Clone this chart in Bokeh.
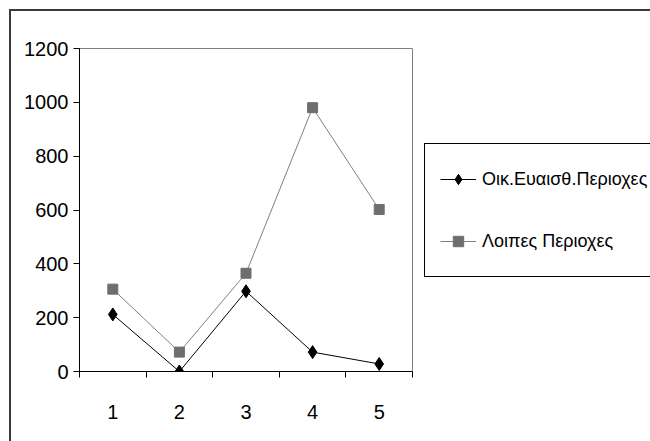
from bokeh.plotting import figure
from bokeh.models import (ColumnDataSource, FixedTicker, Legend, LegendItem,
                          Range1d, CustomJSTickFormatter)
from bokeh.embed import file_html
from bokeh.resources import INLINE

# ---- data ----
categories = [1, 2, 3, 4, 5]
cat_labels = ["1", "2", "3", "4", "5"]
sensitive = [212, 0, 298, 72, 28]
other = [306, 72, 365, 980, 602]
series_names = ["Οικ.Ευαισθ.Περιοχες", "Λοιπες Περιοχες"]
y_ticks = [0, 200, 400, 600, 800, 1000, 1200]

src = ColumnDataSource(dict(x=categories, s1=sensitive, s2=other))

p = figure(frame_width=333, frame_height=323, output_backend="svg",
           toolbar_location=None,
           x_range=Range1d(0.5, 5.5), y_range=Range1d(0, 1200),
           min_border_left=68, min_border_top=37, min_border_right=238,
           min_border_bottom=70)
# outer chart frame (top and left edges visible in the reference)
p.styles = {"margin-left": "9px", "margin-top": "9px",
            "border-left": "2px solid #3a3a3a", "border-top": "2px solid #3a3a3a"}
p.xgrid.visible = False
p.ygrid.visible = False
p.outline_line_color = "#808080"
p.outline_line_width = 1
p.outline_line_alpha = 1

l1 = p.line("x", "s1", source=src, line_color="black", line_width=1)
m1 = p.scatter("x", "s1", source=src, marker="diamond", size=13,
               fill_color="black", line_color="black")
l2 = p.line("x", "s2", source=src, line_color="#808080", line_width=1)
m2 = p.scatter("x", "s2", source=src, marker="square", size=10,
               fill_color="#6e6e6e", line_color="#6e6e6e")

# x axis: ticks at category boundaries, labels at centres
xa = p.xaxis[0]
xa.ticker = FixedTicker(ticks=categories,
                        minor_ticks=[c - 0.5 for c in categories] + [categories[-1] + 0.5])
xa.major_tick_line_color = None
xa.major_tick_out = 0
xa.major_tick_in = 0
xa.minor_tick_out = 6
xa.minor_tick_in = 0
xa.minor_tick_line_color = "black"
xa.axis_line_color = "black"
xa.major_label_standoff = 27
xa.major_label_text_font = "Liberation Sans"
xa.major_label_text_font_size = "20px"
xa.major_label_text_color = "black"
xa.formatter = CustomJSTickFormatter(args=dict(labels=cat_labels),
                                     code="return labels[Math.round(tick) - 1];")

ya = p.yaxis[0]
ya.ticker = FixedTicker(ticks=y_ticks, minor_ticks=[])
ya.major_tick_out = 6
ya.major_tick_in = 0
ya.minor_tick_line_color = None
ya.axis_line_color = "black"
ya.major_tick_line_color = "black"
ya.major_label_standoff = 5
ya.major_label_text_font = "Liberation Sans"
ya.major_label_text_font_size = "20px"
ya.major_label_text_color = "black"

legend = Legend(items=[LegendItem(label=series_names[0], renderers=[l1, m1]),
                       LegendItem(label=series_names[1], renderers=[l2, m2])],
                location=(12, 94), orientation="vertical",
                padding=15, spacing=22, margin=0,
                glyph_width=36, glyph_height=26, label_height=40,
                label_width=185, label_standoff=6,
                label_text_font="Liberation Sans",
                label_text_font_size="18px", label_text_color="black",
                border_line_color="black", border_line_width=1,
                border_line_alpha=1,
                background_fill_color="white", background_fill_alpha=1)
p.add_layout(legend, "right")

open("out.html", "w").write(file_html(p, INLINE))
